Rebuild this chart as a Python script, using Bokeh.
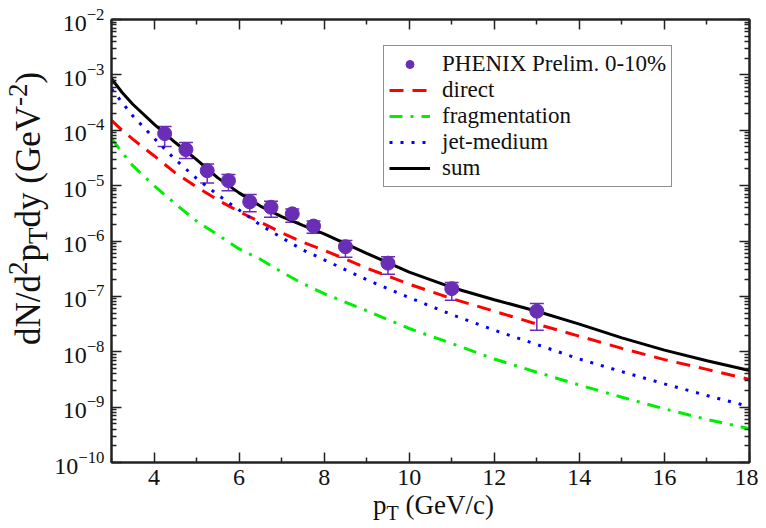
from bokeh.plotting import figure
from bokeh.layouts import row, column
from bokeh.models import (ColumnDataSource, Whisker, TeeHead, FixedTicker, LinearAxis,
                          LogAxis, Legend, LegendItem, Range1d, CustomJSTickFormatter, Div)
from bokeh.embed import file_html
from bokeh.resources import INLINE

# ---------------- data ----------------
pt_curve = [3, 3.25, 3.5, 4, 4.5, 5, 5.5, 6, 6.5, 7, 7.5, 8, 9, 10, 11, 12, 13, 14, 15, 16, 17, 18]
sum_vals = [8.5e-4, 4.8e-4, 2.95e-4, 1.29e-4, 6.0e-5, 2.95e-5, 1.38e-5, 7.4e-6, 4.27e-6, 2.75e-6,
            1.91e-6, 1.35e-6, 6.0e-7, 2.75e-7, 1.45e-7, 8.7e-8, 5.4e-8, 3.16e-8, 1.78e-8, 1.07e-8,
            6.9e-9, 4.6e-9]
direct_vals = [1.51e-4, 1.0e-4, 6.9e-5, 3.47e-5, 1.70e-5, 9.5e-6, 5.5e-6, 3.39e-6, 2.19e-6, 1.41e-6,
               9.5e-7, 6.8e-7, 3.24e-7, 1.66e-7, 9.1e-8, 5.4e-8, 3.16e-8, 1.91e-8, 1.15e-8, 7.2e-9,
               4.8e-9, 3.16e-9]
jet_vals = [5.6e-4, 3.16e-4, 1.82e-4, 7.2e-5, 2.95e-5, 1.35e-5, 6.8e-6, 3.63e-6, 1.95e-6, 1.15e-6,
            6.9e-7, 4.57e-7, 2.0e-7, 9.5e-8, 4.68e-8, 2.45e-8, 1.35e-8, 7.4e-9, 4.37e-9, 2.63e-9,
            1.62e-9, 1.02e-9]
frag_vals = [7.1e-5, 3.98e-5, 2.29e-5, 1.0e-5, 4.68e-6, 2.29e-6, 1.29e-6, 7.2e-7, 4.68e-7, 2.75e-7,
             1.70e-7, 1.12e-7, 5.5e-8, 2.63e-8, 1.41e-8, 7.4e-9, 4.27e-9, 2.51e-9, 1.51e-9, 9.3e-10,
             6.0e-10, 4.07e-10]

phenix_pt = [4.25, 4.75, 5.25, 5.75, 6.25, 6.75, 7.25, 7.75, 8.5, 9.5, 11, 13]
phenix_y = [8.7e-5, 4.47e-5, 1.86e-5, 1.23e-5, 5.1e-6, 4.07e-6, 3.09e-6, 1.86e-6, 7.9e-7, 3.98e-7,
            1.38e-7, 5.4e-8]
phenix_lo = [5.1e-5, 3.09e-5, 1.12e-5, 8.1e-6, 3.39e-6, 2.69e-6, 2.19e-6, 1.38e-6, 5.1e-7, 2.51e-7,
             8.5e-8, 2.45e-8]
phenix_hi = [1.17e-4, 6.0e-5, 2.45e-5, 1.58e-5, 6.9e-6, 5.2e-6, 3.8e-6, 2.29e-6, 1.02e-6, 5.2e-7,
             1.78e-7, 7.4e-8]

x_major = [4, 6, 8, 10, 12, 14, 16, 18]
x_minor = [3, 5, 7, 9, 11, 13, 15, 17]
y_exponents = list(range(-10, -1))

labels = ["PHENIX Prelim. 0-10%", "direct", "fragmentation", "jet-medium", "sum"]

# ---------------- style ----------------
FONT = "'Liberation Serif', serif"
PURPLE = "#6a2db6"
AX = "#222222"

p = figure(width=708, height=500, x_range=Range1d(3, 18), y_range=Range1d(1e-10, 1e-2),
           y_axis_type="log", output_backend="svg", toolbar_location=None,
           min_border_left=61, min_border_right=9, min_border_top=19, min_border_bottom=38)
p.xgrid.visible = False
p.ygrid.visible = False
p.outline_line_color = AX
p.outline_line_width = 2
p.background_fill_color = "white"
p.border_fill_color = "white"

y_major = [10.0 ** e for e in y_exponents]
y_minor = [m * 10.0 ** e for e in y_exponents[:-1] for m in range(2, 10)]
xt = FixedTicker(ticks=x_major, minor_ticks=x_minor)
yt = FixedTicker(ticks=y_major, minor_ticks=y_minor)
blank = CustomJSTickFormatter(code="return ''")


def style(ax, show_labels):
    ax.axis_line_color = AX
    ax.axis_line_width = 2
    ax.major_tick_in = 10
    ax.major_tick_out = 0
    ax.minor_tick_in = 5
    ax.minor_tick_out = 0
    ax.major_tick_line_color = AX
    ax.major_tick_line_width = 1.5
    ax.minor_tick_line_color = AX
    ax.minor_tick_line_width = 1.5
    ax.major_label_text_font = FONT
    ax.major_label_text_color = "#111111"
    ax.major_label_text_font_size = "24px"
    if show_labels:
        ax.major_label_standoff = 7
    else:
        ax.formatter = blank
        ax.major_label_standoff = 0


p.xaxis[0].ticker = xt
p.yaxis[0].ticker = yt
style(p.xaxis[0], True)
style(p.yaxis[0], True)
top = LinearAxis(ticker=xt)
right = LogAxis(ticker=yt)
style(top, False)
style(right, False)
p.add_layout(top, "above")
p.add_layout(right, "right")

# ---------------- curves ----------------
r_dir = p.line(pt_curve, direct_vals, line_color="#ff0000", line_width=3, line_dash="14 9")
r_frag = p.line(pt_curve, frag_vals, line_color="#00ee00", line_width=3, line_dash="13 8 3 8")
r_jet = p.line(pt_curve, jet_vals, line_color="#0000ff", line_width=3, line_dash="3 8")
r_sum = p.line(pt_curve, sum_vals, line_color="#000000", line_width=3)

src = ColumnDataSource(dict(x=phenix_pt, y=phenix_y, lo=phenix_lo, hi=phenix_hi))
wh = Whisker(base="x", lower="lo", upper="hi", source=src, line_color=PURPLE, line_width=1.5,
             upper_head=TeeHead(size=14, line_color=PURPLE, line_width=1.5),
             lower_head=TeeHead(size=14, line_color=PURPLE, line_width=1.5))
p.add_layout(wh)
r_pts = p.scatter("x", "y", source=src, size=14, fill_color=PURPLE, line_color=PURPLE)

legend = Legend(items=[LegendItem(label=labels[0], renderers=[r_pts]),
                       LegendItem(label=labels[1], renderers=[r_dir]),
                       LegendItem(label=labels[2], renderers=[r_frag]),
                       LegendItem(label=labels[3], renderers=[r_jet]),
                       LegendItem(label=labels[4], renderers=[r_sum])],
                location=(272, 275))
legend.label_text_font = FONT
legend.label_text_font_size = "23px"
legend.label_text_color = "#111111"
legend.glyph_width = 41
legend.glyph_height = 20
legend.label_height = 20
legend.label_standoff = 12
legend.spacing = 0
legend.padding = 5
legend.margin = 0
legend.border_line_color = AX
legend.border_line_width = 1.5
legend.background_fill_alpha = 1.0
p.add_layout(legend, "center")

# ---------------- axis titles (HTML, for sub/superscripts) ----------------
TXT = "font-family:'Liberation Serif',serif; color:#111111; white-space:nowrap;"
y_title = ('<div style="position:absolute; left:11px; top:345px; transform:rotate(-90deg); '
           'transform-origin:0 0; font-size:35px; line-height:35px; ' + TXT + '">'
           'dN/d<span style="font-size:27px; position:relative; top:-13px;">2</span>p'
           '<span style="font-size:27px; position:relative; top:7px;">T</span>dy (GeV'
           '<span style="font-size:27px; position:relative; top:-13px;">-2</span>)</div>')
x_title = ('<div style="margin-left:373px; margin-top:-5px; font-size:27px; line-height:20px; '
           + TXT + '">p<span style="font-size:20px; position:relative; top:6px;">T</span>'
           ' (GeV/c)</div>')

ydiv = Div(text=y_title, width=50, height=500, margin=0)
xdiv = Div(text=x_title, width=758, height=20, margin=0)

layout = column(row(ydiv, p, spacing=0), xdiv, spacing=0)

open("out.html", "w").write(file_html(layout, INLINE))
